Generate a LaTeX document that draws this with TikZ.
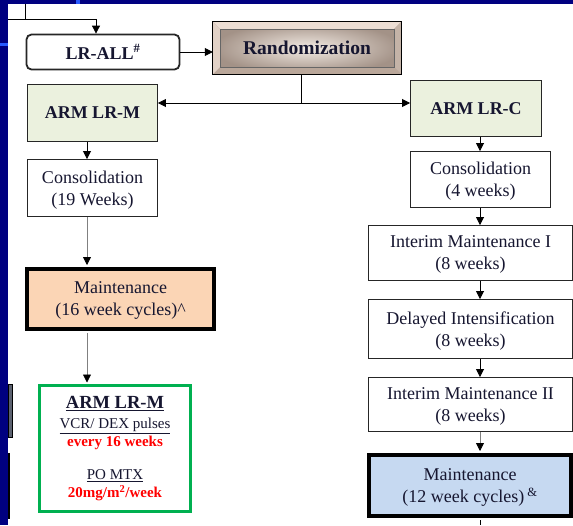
\documentclass[tikz,border=0pt]{standalone}
\usepackage{fontspec}
\setmainfont{Liberation Serif}
\usetikzlibrary{arrows.meta}
\usetikzlibrary{shadings}
\definecolor{slidenavy}{RGB}{0,0,128}
\definecolor{slideblue}{RGB}{40,90,255}
\definecolor{slidegrey}{RGB}{92,98,112}
\definecolor{ink}{RGB}{22,22,48}
\definecolor{armfill}{RGB}{235,241,222}
\definecolor{peach}{RGB}{251,213,181}
\definecolor{paleblue}{RGB}{198,217,241}
\definecolor{planred}{RGB}{255,0,0}
\definecolor{plangreen}{RGB}{0,176,80}
\definecolor{randlight}{RGB}{243,235,228}
\definecolor{randdark}{RGB}{163,146,135}
\definecolor{bevtop}{RGB}{236,222,212}
\definecolor{bevleft}{RGB}{226,210,199}
\definecolor{bevbot}{RGB}{186,167,154}
\definecolor{bevright}{RGB}{196,179,167}
\newcommand{\BT}{\fontsize{18}{22}\selectfont}
\newcommand{\ST}{\fontsize{15}{18}\selectfont}
\newcommand{\RT}{\fontsize{19.5}{22}\selectfont}
\newcommand{\Bevel}[2]{\fill[bevtop] (#1.north west) -- (#1.north east) -- ([shift={(-#2,-#2)}]#1.north east) -- ([shift={(#2,-#2)}]#1.north west) -- cycle;
                     \fill[bevbot] (#1.south west) -- (#1.south east) -- ([shift={(-#2,#2)}]#1.south east) -- ([shift={(#2,#2)}]#1.south west) -- cycle;
                     \fill[bevleft] (#1.north west) -- (#1.south west) -- ([shift={(#2,#2)}]#1.south west) -- ([shift={(#2,-#2)}]#1.north west) -- cycle;
                     \fill[bevright] (#1.north east) -- (#1.south east) -- ([shift={(-#2,#2)}]#1.south east) -- ([shift={(-#2,-#2)}]#1.north east) -- cycle;
                     \draw[black!60,line width=0.5pt] ([shift={(#2,-#2)}]#1.north west) rectangle ([shift={(-#2,#2)}]#1.south east);
                     \draw[black,line width=0.9pt] (#1.north west) rectangle (#1.south east);}

\begin{document}
\begin{tikzpicture}[x=1pt,y=-1pt,
    box/.style={draw=black!85,line width=0.9pt,fill=white,text=ink,align=center,font=\BT,inner sep=0pt},
    stage/.style={box,text depth=-7.5pt},
    armbox/.style={box,fill=armfill,font=\BT\bfseries},
    thickbox/.style={stage,draw=black,line width=4pt},
    randbox/.style={inner color=randlight,outer color=randdark,text=ink,font=\RT\bfseries,inner sep=0pt},
    wh/.style 2 args={minimum width=#1pt,minimum height=#2pt},
    wire/.style={draw=black,line width=0.8pt},
    conn/.style={wire,-{Triangle[width=8pt,length=8pt,color=black]}},
    greyconn/.style={conn,draw=black!50}]

    % slide background
    \useasboundingbox (0,0) rectangle (573,525);
    \fill[white] (0,0) rectangle (573,525);
    \fill[slidenavy] (0,0) rectangle (573,3.5);
    \fill[slidenavy] (0,0) rectangle (8,525);
    \fill[slideblue] (76,0) rectangle (80,3.5);
    \fill[slideblue] (0,43) rectangle (8,46);
    \filldraw[fill=slidegrey,draw=black,line width=0.5pt] (8.3,384) rectangle (12,437);
    \fill[black] (8,453) rectangle (10,519);

    % top row
    \node[box,wh={153}{35},rounded corners=5pt,line width=1.8pt,font=\BT\bfseries] (lrall) at (103,52) {LR-ALL\textsuperscript{\#}};
    \node[randbox,wh={188}{52}] (rand) at (307,48) {};
    \Bevel{rand}{7pt}
    \node[text=ink,font=\RT\bfseries] at (rand) {Randomization};

    % left arm
    \node[armbox,wh={130}{57}] (armM) at (92.5,113) {ARM LR-M};
    \node[stage,wh={130}{57}] (consM) at (92.5,188) {Consolidation\\(19 Weeks)};
    \node[thickbox,fill=peach,wh={187}{60}] (mainM) at (120.5,299) {Maintenance\\(16 week cycles)\textasciicircum};
    \node[box,draw=plangreen,line width=3pt,wh={151}{126},font=\ST] (planM) at (115,448.5)
        {{\fontsize{18.5}{18}\selectfont\bfseries\underline{ARM LR-M}}\\[2pt]
         \underline{VCR/ DEX pulses}\\
         \textcolor{planred}{\bfseries every 16 weeks}\\[15pt]
         \underline{PO MTX}\\
         \textcolor{planred}{\bfseries 20mg/m\textsuperscript{2}/week}};

    % right arm
    \node[armbox,wh={131}{56}] (armC) at (476,108.5) {ARM LR-C};
    \node[stage,wh={140}{56}] (consC) at (480.5,179.5) {Consolidation\\(4 weeks)};
    \node[stage,wh={204}{55}] (imI) at (470.5,253) {Interim Maintenance I\\(8 weeks)};
    \node[stage,wh={204}{59}] (delI) at (470.5,329) {Delayed Intensification\\(8 weeks)};
    \node[stage,wh={204}{54}] (imII) at (470.5,404.5) {Interim Maintenance II\\(8 weeks)};
    \node[thickbox,fill=paleblue,wh={202}{61}] (mainC) at (470,485.5) {Maintenance\\(12 week cycles)\,\textsuperscript{\&}};

    % connectors
    \coordinate (lx) at (87,0);
    \coordinate (rx) at (480,0);
    \coordinate (split) at (301,103);
    \coordinate (feedtop) at (25,3.5);
    \coordinate (feedleft) at (8,19);
    \coordinate (feedbend) at (96,19);
    \coordinate (bottomend) at (480,525);

    \draw[wire] (feedtop) -- (feedtop |- feedbend);
    \draw[conn] (feedleft) -- (feedbend) -- (lrall.north -| feedbend);
    \draw[conn] (lrall.east) -- (lrall.east -| rand.west);
    \draw[wire] (rand.south -| split) -- (split);
    \draw[conn] (split) -- (armM.east |- split);
    \draw[conn] (split) -- (armC.west |- split);

    \draw[conn] (armM.south -| lx) -- (consM.north -| lx);
    \draw[greyconn,shorten >=2pt] (consM.south -| lx) -- (mainM.north -| lx);
    \draw[greyconn,shorten <=2pt,shorten >=1.5pt] (mainM.south -| lx) -- (planM.north -| lx);

    \draw[conn] (armC.south -| rx) -- (consC.north -| rx);
    \draw[conn] (consC.south -| rx) -- (imI.north -| rx);
    \draw[conn] (imI.south -| rx) -- (delI.north -| rx);
    \draw[conn] (delI.south -| rx) -- (imII.north -| rx);
    \draw[greyconn,shorten >=2pt] (imII.south -| rx) -- (mainC.north -| rx);
    \draw[wire,shorten <=2pt] (mainC.south -| rx) -- (bottomend);
\end{tikzpicture}
\end{document}
